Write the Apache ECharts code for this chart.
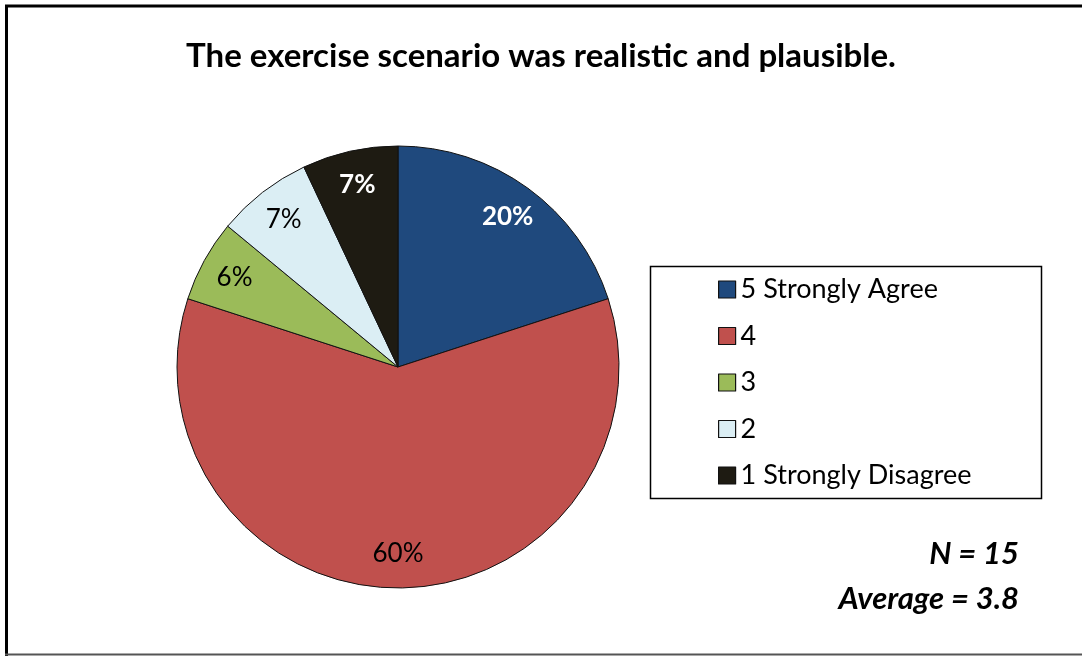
<!DOCTYPE html>
<html>
<head>
<meta charset="utf-8">
<script src="https://cdn.jsdelivr.net/npm/echarts@6/dist/echarts.min.js"></script>
<style>html,body{margin:0;padding:0;background:#fff;}#c{width:1082px;height:656px;}</style>
</head>
<body>
<div id="c"></div>
<script>
const categories = ['5 Strongly Agree', '4', '3', '2', '1 Strongly Disagree'];
const values = [20, 60, 6, 7, 7];
const colors = ['#1F497D', '#C0504D', '#9BBB59', '#DBEEF4', '#1E1B12'];
const labelColors = ['#ffffff', '#000000', '#000000', '#000000', '#ffffff'];
const labelWeights = ['bold', 'normal', 'normal', 'normal', 'bold'];
const titleText = 'The exercise scenario was realistic and plausible.';
const noteLines = ['N = 15', 'Average = 3.8'];

const FONT = 'Lato, "Open Sans", sans-serif';
const chart = echarts.init(document.getElementById('c'));
const pieData = categories.map((name, i) => ({
  name, value: values[i],
  itemStyle: { color: colors[i] }
}));
const labelData = categories.map((name, i) => ({
  name, value: values[i],
  label: { color: labelColors[i], fontWeight: labelWeights[i] }
}));
chart.setOption({
  animation: false,
  title: {
    text: titleText, left: 'center', top: 35,
    textStyle: { fontFamily: FONT, fontSize: 33, fontWeight: 'bold', color: '#000' }
  },
  legend: {
    orient: 'vertical', left: 718, top: 276, padding: 0,
    icon: 'rect', itemWidth: 17, itemHeight: 17, itemGap: 19.5,
    selectedMode: false,
    data: categories,
    itemStyle: { borderColor: '#111', borderWidth: 1.2 },
    textStyle: { fontFamily: FONT, fontSize: 27, color: '#000' }
  },
  graphic: [
    { type: 'rect', shape: { x: 650.5, y: 266.5, width: 391, height: 232 }, style: { fill: 'none', stroke: '#000', lineWidth: 1.5 }, z: -1 },
    { type: 'line', shape: { x1: 5, y1: 6, x2: 1082, y2: 6 }, style: { stroke: '#000', lineWidth: 3 } },
    { type: 'line', shape: { x1: 6.5, y1: 5, x2: 6.5, y2: 656 }, style: { stroke: '#000', lineWidth: 3 } },
    { type: 'line', shape: { x1: 5, y1: 654.5, x2: 1082, y2: 654.5 }, style: { stroke: '#555', lineWidth: 2 } },
    { type: 'text', right: 1082 - 1019, top: 538, style: { text: noteLines[0], fontFamily: FONT, fontSize: 31, fontWeight: 'bold', fontStyle: 'italic', fill: '#000', textAlign: 'right' } },
    { type: 'text', right: 1082 - 1019, top: 583, style: { text: noteLines[1], fontFamily: FONT, fontSize: 31, fontWeight: 'bold', fontStyle: 'italic', fill: '#000', textAlign: 'right' } }
  ],
  series: [
    {
      type: 'pie', center: [398, 367], radius: [0, 221], startAngle: 90, clockwise: true,
      legendHoverLink: false, silent: true,
      itemStyle: { borderColor: '#111', borderWidth: 1 },
      label: { show: false }, labelLine: { show: false },
      data: pieData
    },
    {
      type: 'pie', center: [398, 367], radius: [146, 221], startAngle: 90, clockwise: true,
      silent: true,
      itemStyle: { color: 'rgba(0,0,0,0)', borderWidth: 0 },
      label: { show: true, position: 'inside', formatter: '{c}%', fontFamily: FONT, fontSize: 26 },
      labelLine: { show: false },
      data: labelData
    }
  ]
});
</script>
</body>
</html>
